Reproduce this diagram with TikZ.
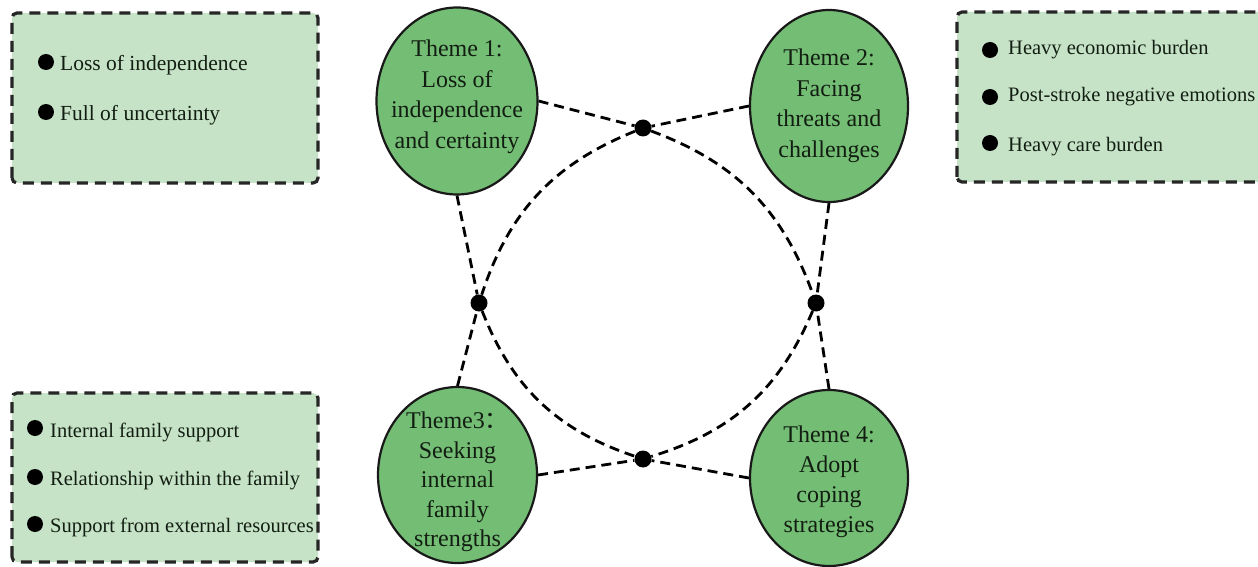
\documentclass[tikz,border=0pt]{standalone}
\usepackage{fontspec}
\setmainfont{Liberation Serif}
\newfontfamily\cjk{Noto Sans CJK SC}
\usetikzlibrary{shapes.geometric}
\definecolor{themegreen}{RGB}{116,189,116}
\definecolor{boxgreen}{RGB}{198,227,199}
\definecolor{inkdark}{RGB}{18,30,18}

\begin{document}
\begin{tikzpicture}[
    x=1pt, y=1pt,
    theme/.style={ellipse, draw=black!90, line width=2.2pt, fill=themegreen,
                  inner sep=0pt},
    themetext/.style={align=center, inner sep=0pt, text=inkdark,
                  font=\fontsize{24}{30.5}\selectfont},
    panel/.style={draw=black!85, line width=3.2pt, dash pattern=on 11pt off 7pt,
                  fill=boxgreen, rounded corners=5pt},
    bullet/.style={circle, fill=black, inner sep=0pt, minimum size=16pt},
    item/.style={anchor=west, inner sep=0pt, text=inkdark,
                 font=\fontsize{20.5}{24}\selectfont},
    junction/.style={circle, fill=black, inner sep=0pt, minimum size=17pt},
    link/.style={draw=black, line width=2.8pt, dash pattern=on 10pt off 6pt}
]
\useasboundingbox (0,0) rectangle (1258,566);
\fill[white] (0,0) rectangle (1258,566);

% Panels
\draw[panel] (12,383) rectangle (318,553);
\draw[panel] (957,384) rectangle (1275,554);
\draw[panel] (12,4) rectangle (318,173);

% Panel 1
\node[bullet] (b11) at (46,504) {};
\node[item, font=\fontsize{21.5}{25}\selectfont] (i11) at (60,501) {Loss of independence};
\node[bullet] (b12) at (46,454) {};
\node[item, font=\fontsize{21.5}{25}\selectfont] (i12) at (60,451) {Full of uncertainty};

% Panel 2
\node[bullet] (b21) at (990,516) {};
\node[item] (i21) at (1008,516) {Heavy economic burden};
\node[bullet] (b22) at (990,469) {};
\node[item] (i22) at (1008,469) {Post-stroke negative emotions};
\node[bullet] (b23) at (990,423) {};
\node[item] (i23) at (1008,419) {Heavy care burden};

% Panel 3
\node[bullet] (b31) at (35,138) {};
\node[item] (i31) at (50,134) {Internal family support};
\node[bullet] (b32) at (35,89) {};
\node[item] (i32) at (50,86) {Relationship within the family};
\node[bullet] (b33) at (35,42) {};
\node[item] (i33) at (50,39) {Support from external resources};

% Themes
\node[theme, minimum width=161pt, minimum height=187pt] (t1) at (457,465) {};
\node[themetext, yshift=4pt] (t1txt) at (t1) {Theme 1:\\Loss of\\independence\\and certainty};
\node[theme, minimum width=158pt, minimum height=192pt] (t2) at (829,460) {};
\node[themetext] (t2txt) at (t2) {Theme 2:\\Facing\\threats and\\challenges};
\node[theme, minimum width=159pt, minimum height=176pt] (t3) at (457.5,91) {};
\node[themetext, yshift=-7pt, font=\fontsize{24}{29.5}\selectfont] (t3txt) at (t3)
    {Theme3\smash{\cjk ：}\\Seeking\\internal\\family\\strengths};
\node[theme, minimum width=158pt, minimum height=176pt] (t4) at (829,88) {};
\node[themetext, yshift=-4pt, font=\fontsize{24}{30}\selectfont] (t4txt) at (t4)
    {Theme 4:\\Adopt\\coping\\strategies};

% Junctions
\node[junction] (d1) at (643,438) {};
\node[junction] (dL) at (479,263) {};
\node[junction] (dR) at (816,263) {};
\node[junction] (dB) at (643,107) {};

% Links to themes
\draw[link] (t1.east) -- (d1);
\draw[link] (t2.west) -- (d1);
\draw[link] (t1.south) -- (dL);
\draw[link] (t3.north) -- (dL);
\draw[link] (t2.south) -- (dR);
\draw[link] (t4.north) -- (dR);
\draw[link] (t3.east) -- (dB);
\draw[link] (t4.west) -- (dB);

% Arcs
\draw[link] (d1) to[bend right=25] (dL);
\draw[link] (d1) to[bend left=25] (dR);
\draw[link] (dL) to[bend right=25] (dB);
\draw[link] (dR) to[bend left=25] (dB);

\end{tikzpicture}
\end{document}
